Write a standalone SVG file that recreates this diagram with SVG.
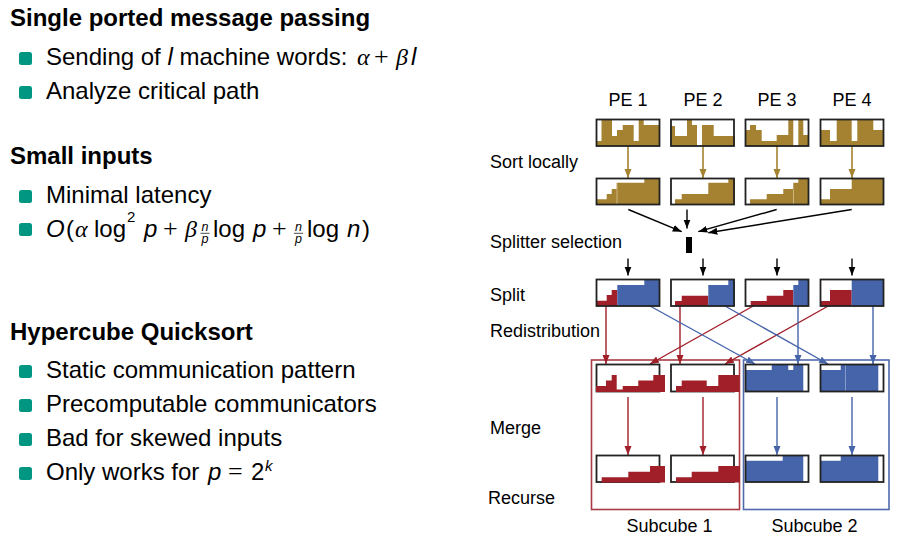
<svg xmlns="http://www.w3.org/2000/svg" width="903" height="544" viewBox="0 0 903 544">
<style>
.t{font-family:"Liberation Sans",Arial,sans-serif;font-size:24px;fill:#000}
.h{font-weight:bold}
.i{font-style:italic}
.m{font-family:"Liberation Serif","Times New Roman",serif}
.pl{font-size:26px}
.lab{font-family:"Liberation Sans",Arial,sans-serif;font-size:18px;fill:#000}
.bul{fill:#009682}
.box{fill:none;stroke:#222;stroke-width:1.8}
.br{fill:#A48232}
.rd{fill:#A11F29}
.bl{fill:#4664AA}
.ab{stroke:#A48232;stroke-width:1.6;fill:none;marker-end:url(#mb)}
.ak{stroke:#000;stroke-width:1.4;fill:none;marker-end:url(#mk)}
.ar{stroke:#A11F29;stroke-width:1.4;fill:none;marker-end:url(#mr)}
.au{stroke:#4664AA;stroke-width:1.4;fill:none;marker-end:url(#mu)}
.sep{stroke-width:0.8;fill:none}
.fr{font-size:12.5px}
</style>
<defs>
<marker id="mb" markerUnits="userSpaceOnUse" markerWidth="10" markerHeight="8" refX="9" refY="3.5" orient="auto"><path d="M0,0 L9,3.5 L0,7 Z" fill="#A48232"/></marker>
<marker id="mk" markerUnits="userSpaceOnUse" markerWidth="10" markerHeight="8" refX="9" refY="3.5" orient="auto"><path d="M0,0 L9,3.5 L0,7 Z" fill="#000"/></marker>
<marker id="mr" markerUnits="userSpaceOnUse" markerWidth="10" markerHeight="8" refX="9" refY="3.5" orient="auto"><path d="M0,0 L9,3.5 L0,7 Z" fill="#A11F29"/></marker>
<marker id="mu" markerUnits="userSpaceOnUse" markerWidth="10" markerHeight="8" refX="9" refY="3.5" orient="auto"><path d="M0,0 L9,3.5 L0,7 Z" fill="#4664AA"/></marker>
</defs>
<rect width="903" height="544" fill="#fff"/>

<g id="left-text">
<text class="t h" x="10" y="26">Single ported message passing</text>
<rect class="bul" x="19" y="52" width="13" height="13" rx="2.5"/>
<text class="t" x="46" y="65">Sending of <tspan class="i">l</tspan> machine words:</text>
<text class="t m i" x="357" y="65">α</text>
<text class="t m pl" x="374" y="65">+</text>
<text class="t m i" x="396" y="65">β</text>
<text class="t i" x="411" y="65">l</text>
<rect class="bul" x="19" y="86" width="13" height="13" rx="2.5"/>
<text class="t" x="46" y="99">Analyze critical path</text>

<text class="t h" x="10" y="164">Small inputs</text>
<rect class="bul" x="19" y="190" width="13" height="13" rx="2.5"/>
<text class="t" x="46" y="203">Minimal latency</text>
<rect class="bul" x="19" y="223" width="13" height="13" rx="2.5"/>
<text class="t i" x="46" y="237">O</text>
<text class="t" x="66" y="237">(</text>
<text class="t m i" x="75" y="237">α</text>
<text class="t" x="94" y="237">log</text>
<text class="t" x="127" y="221.5" style="font-size:15px">2</text>
<text class="t i" x="144" y="237">p</text>
<text class="t m pl" x="163" y="237">+</text>
<text class="t m i" x="185" y="237">β</text>
<text class="t i fr" x="205" y="230.5" text-anchor="middle">n</text>
<line x1="200.5" y1="233.3" x2="209.5" y2="233.3" stroke="#000" stroke-width="0.7"/>
<text class="t i fr" x="205" y="242.5" text-anchor="middle">p</text>
<text class="t" x="213" y="237">log</text>
<text class="t i" x="253" y="237">p</text>
<text class="t m pl" x="272" y="237">+</text>
<text class="t i fr" x="298.5" y="230.5" text-anchor="middle">n</text>
<line x1="294" y1="233.3" x2="303" y2="233.3" stroke="#000" stroke-width="0.7"/>
<text class="t i fr" x="298.5" y="242.5" text-anchor="middle">p</text>
<text class="t" x="307" y="237">log</text>
<text class="t i" x="347" y="237">n</text>
<text class="t" x="362" y="237">)</text>

<text class="t h" x="10" y="340">Hypercube Quicksort</text>
<rect class="bul" x="19" y="365" width="13" height="13" rx="2.5"/>
<text class="t" x="46" y="378">Static communication pattern</text>
<rect class="bul" x="19" y="399" width="13" height="13" rx="2.5"/>
<text class="t" x="46" y="412">Precomputable communicators</text>
<rect class="bul" x="19" y="433" width="13" height="13" rx="2.5"/>
<text class="t" x="46" y="446">Bad for skewed inputs</text>
<rect class="bul" x="19" y="467" width="13" height="13" rx="2.5"/>
<text class="t" x="46" y="480">Only works for</text>
<text class="t i" x="208" y="480">p</text>
<text class="t m pl" x="228" y="480">=</text>
<text class="t" x="251" y="480">2</text>
<text class="t i" x="265" y="471" style="font-size:15px">k</text>
</g>

<g id="labels">
<text class="lab" x="628" y="106" text-anchor="middle">PE 1</text>
<text class="lab" x="703" y="106" text-anchor="middle">PE 2</text>
<text class="lab" x="777" y="106" text-anchor="middle">PE 3</text>
<text class="lab" x="852" y="106" text-anchor="middle">PE 4</text>
<text class="lab" x="490" y="168">Sort locally</text>
<text class="lab" x="490" y="248">Splitter selection</text>
<text class="lab" x="490" y="301">Split</text>
<text class="lab" x="490" y="337">Redistribution</text>
<text class="lab" x="490" y="434">Merge</text>
<text class="lab" x="488" y="504">Recurse</text>
</g>

<g id="subcube1">
<rect x="591.5" y="360" width="148" height="149.5" fill="none" stroke="#A93A44" stroke-width="1.6"/>
<text class="lab" x="669.5" y="532" text-anchor="middle">Subcube 1</text>
</g>
<g id="subcube2">
<rect x="743.5" y="360" width="145.5" height="149.5" fill="none" stroke="#5069AD" stroke-width="1.6"/>
<text class="lab" x="814.5" y="532" text-anchor="middle">Subcube 2</text>
</g>

<g id="connectors">
<line class="ab" x1="628" y1="146" x2="628" y2="178"/>
<line class="ab" x1="703" y1="146" x2="703" y2="178"/>
<line class="ab" x1="777" y1="146" x2="777" y2="178"/>
<line class="ab" x1="852" y1="146" x2="852" y2="178"/>
<line class="ak" x1="628.3" y1="209.5" x2="681.7" y2="231.7"/>
<line class="ak" x1="687" y1="209.5" x2="687" y2="228.5"/>
<line class="ak" x1="776.7" y1="209.5" x2="698.3" y2="231.7"/>
<line class="ak" x1="851.7" y1="209.5" x2="708.3" y2="232.7"/>
<line class="ak" x1="628" y1="258.5" x2="628" y2="275.5"/>
<line class="ak" x1="703" y1="258.5" x2="703" y2="275.5"/>
<line class="ak" x1="777" y1="258.5" x2="777" y2="275.5"/>
<line class="ak" x1="852" y1="258.5" x2="852" y2="275.5"/>
<line class="ar" x1="606" y1="306" x2="606" y2="364"/>
<line class="ar" x1="680" y1="306" x2="680" y2="364"/>
<line class="ar" x1="755" y1="305" x2="650" y2="364"/>
<line class="ar" x1="830" y1="305" x2="725" y2="364"/>
<line class="au" x1="650" y1="306" x2="755" y2="364"/>
<line class="au" x1="725" y1="306" x2="828" y2="364"/>
<line class="au" x1="798" y1="306" x2="798" y2="364"/>
<line class="au" x1="873" y1="306" x2="873" y2="364"/>
<line class="ar" x1="628" y1="397" x2="628" y2="455"/>
<line class="ar" x1="703" y1="397" x2="703" y2="455"/>
<line class="au" x1="777" y1="397" x2="777" y2="455"/>
<line class="au" x1="852" y1="397" x2="852" y2="455"/>
</g>

<g id="splitter"><rect x="686" y="237" width="6" height="16" fill="#000"/></g>

<g id="pe1-local"><path class="br" d="M596,146 V141 H601.5 V119 H612 V136 H617 V130 H622.7 V125 H633.7 V141 H638.7 V119 H643.7 V125 H660 V146 Z"/><rect class="box" x="596.5" y="119.5" width="63" height="26.5"/></g>
<g id="pe2-local"><path class="br" d="M670.5,146 V126 H675 V136 H687 V119 H692 V125 H697 V146 H702 V125 H713.7 V136 H735 V146 Z"/><rect class="box" x="671" y="119.5" width="63" height="26.5"/></g>
<g id="pe3-local"><path class="br" d="M745,146 V130 H750 V125 H756 V130 H761.7 V141 H776.7 V135 H788.3 V119 H793.3 V146 H798.3 V119 H803.3 V135 H809 V146 Z"/><rect class="box" x="745.5" y="119.5" width="63" height="26.5"/></g>
<g id="pe4-local"><path class="br" d="M820,146 V130 H830 V141 H836.7 V119 H851.7 V141 H857.3 V119 H873.3 V130 H884 V146 Z"/><rect class="box" x="820.5" y="119.5" width="63" height="26.5"/></g>

<g id="pe1-sorted"><path class="br" d="M596,204.5 V199.3 H606.7 V194 H611.7 V189 H616.7 V182.7 H644.3 V178 H660 V204.5 Z"/><line class="sep" x1="617" y1="183.5" x2="617" y2="204" stroke="#d9c58f"/><rect class="box" x="596.5" y="178.5" width="63" height="26"/></g>
<g id="pe2-sorted"><path class="br" d="M675,204.5 V199.3 H681.7 V194 H708.3 V182.7 H728.3 V178 H735 V204.5 Z"/><rect class="box" x="671" y="178.5" width="63" height="26"/></g>
<g id="pe3-sorted"><path class="br" d="M750,204.5 V199.3 H766.7 V194 H783.3 V189 H793.3 V182.7 H798.3 V178 H809 V204.5 Z"/><line class="sep" x1="793.5" y1="189.5" x2="793.5" y2="204" stroke="#d9c58f"/><rect class="box" x="745.5" y="178.5" width="63" height="26"/></g>
<g id="pe4-sorted"><path class="br" d="M820,204.5 V199.3 H830 V189 H851.7 V178 H884 V204.5 Z"/><rect class="box" x="820.5" y="178.5" width="63" height="26"/></g>

<g id="pe1-split"><path class="rd" d="M596,306 V300.7 H606.7 V295 H611.7 V290 H617.3 V306 Z"/><path class="bl" d="M617.3,306 V285 H644.3 V279 H660 V306 Z"/><rect class="box" x="596.5" y="279.5" width="63" height="26.5"/></g>
<g id="pe2-split"><path class="rd" d="M675,306 V301 H681.7 V295.7 H708.3 V306 Z"/><path class="bl" d="M708.3,306 V285 H728.3 V279 H735 V306 Z"/><rect class="box" x="671" y="279.5" width="63" height="26.5"/></g>
<g id="pe3-split"><path class="rd" d="M750.7,306 V301 H766.7 V295.7 H783.3 V290 H793.3 V306 Z"/><path class="bl" d="M793.3,306 V285 H798.3 V279 H809 V306 Z"/><rect class="box" x="745.5" y="279.5" width="63" height="26.5"/></g>
<g id="pe4-split"><path class="rd" d="M820,306 V301 H830 V290 H851.7 V306 Z"/><path class="bl" d="M851.7,306 V279 H884 V306 Z"/><rect class="box" x="820.5" y="279.5" width="63" height="26.5"/></g>

<g id="pe1-received"><rect class="box" x="596.5" y="364.5" width="63" height="27"/><path class="rd" d="M596,392 V386 H606 V380.5 H611.7 V375 H616.7 V389.5 H622.7 V386 H638.3 V380.5 H653.3 V375 H665 V392 Z"/></g>
<g id="pe2-received"><rect class="box" x="671" y="364.5" width="63" height="27"/><path class="rd" d="M676,392 V386 H681.7 V380.5 H706.7 V386 H718.3 V375 H739.3 V392 Z"/></g>
<g id="pe3-received"><path class="bl" d="M745,392 V370 H771.7 V364 H788.3 V370 H793.3 V364 H803.3 V392 Z"/><rect class="box" x="745.5" y="364.5" width="63" height="27"/></g>
<g id="pe4-received"><path class="bl" d="M820,392 V370 H840.7 V364 H878.3 V392 Z"/><line class="sep" x1="845.5" y1="365" x2="845.5" y2="391" stroke="#97a8d2"/><rect class="box" x="820.5" y="364.5" width="63" height="27"/></g>

<g id="pe1-merged"><rect class="box" x="596.5" y="455.5" width="63" height="26.5"/><path class="rd" d="M601.7,482.5 V477.3 H628.3 V471.7 H650 V466 H665 V482.5 Z"/></g>
<g id="pe2-merged"><rect class="box" x="671" y="455.5" width="63" height="26.5"/><path class="rd" d="M676,482.5 V477.3 H691.7 V471.7 H718.3 V466 H740 V482.5 Z"/></g>
<g id="pe3-merged"><path class="bl" d="M745,482 V460.7 H782.7 V455 H803.3 V482 Z"/><rect class="box" x="745.5" y="455.5" width="63" height="26.5"/></g>
<g id="pe4-merged"><path class="bl" d="M820,482 V460.7 H840.7 V455 H878.3 V482 Z"/><rect class="box" x="820.5" y="455.5" width="63" height="26.5"/></g>
</svg>
